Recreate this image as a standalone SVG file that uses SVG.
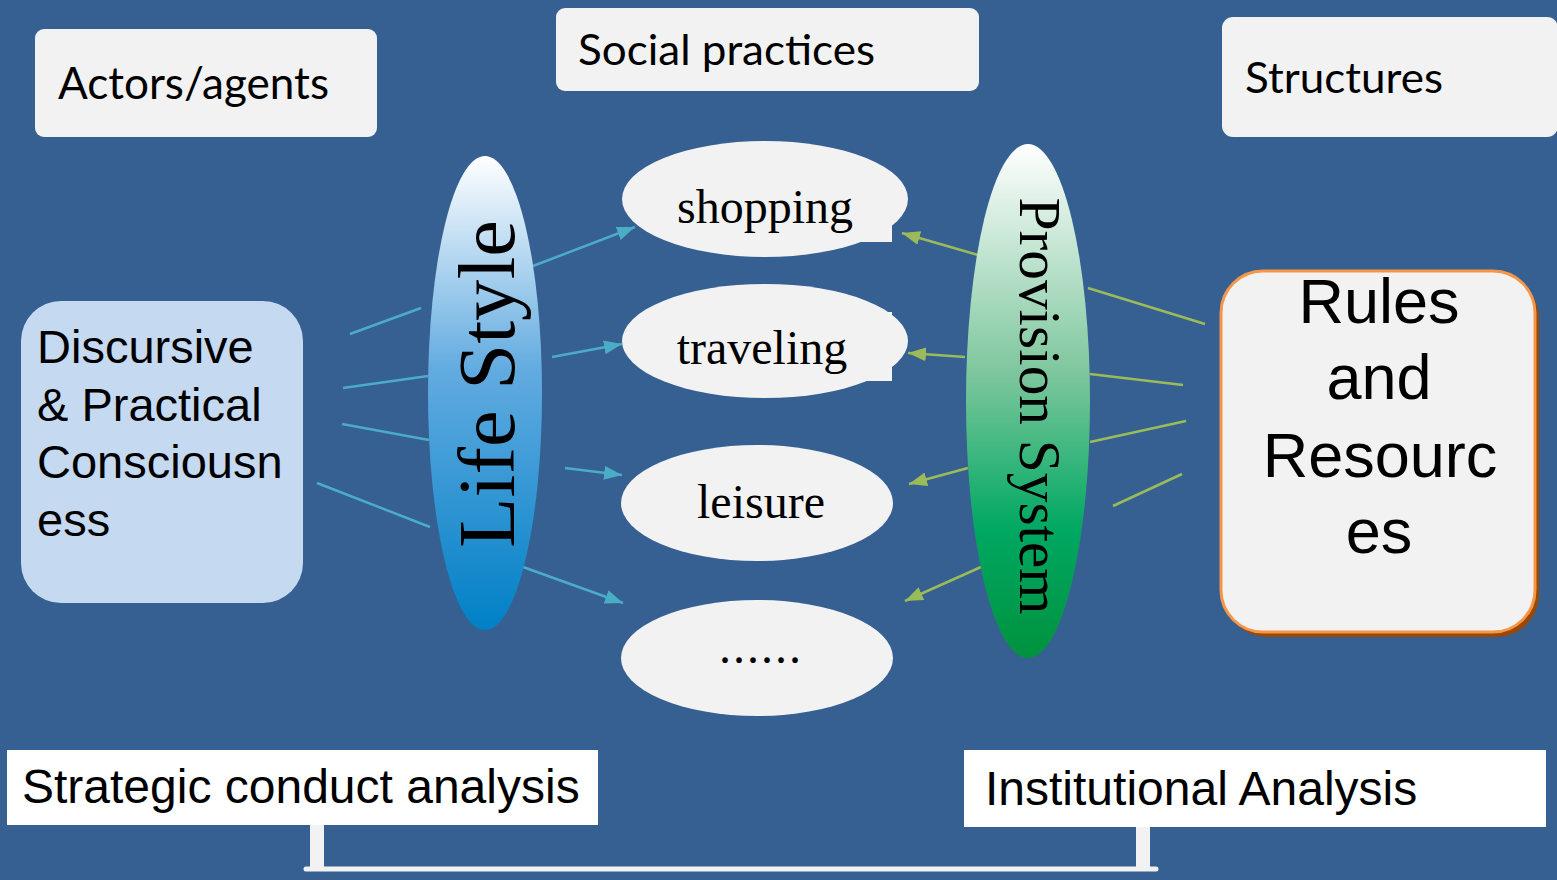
<svg xmlns="http://www.w3.org/2000/svg" width="1557" height="880" viewBox="0 0 1557 880">
<style>
.lbl{fill:#F2F2F2}
.calibri{font-family:Lato,"Open Sans",sans-serif;fill:#000}
.arial{font-family:"Liberation Sans",Arial,sans-serif;fill:#000}
.times{font-family:"Liberation Serif","Times New Roman",serif;fill:#000}
.bl{stroke:#4BACC6;stroke-width:2.5;fill:none}
.gr{stroke:#9BBB59;stroke-width:2.5;fill:none}
.oval{fill:#F2F2F2}
</style>
<defs>
<linearGradient id="gLife" x1="0" y1="0" x2="0" y2="1">
<stop offset="0" stop-color="#FFFFFF"/>
<stop offset="0.45" stop-color="#62ABE0"/>
<stop offset="1" stop-color="#0080C6"/>
</linearGradient>
<linearGradient id="gProv" x1="0" y1="0" x2="0" y2="1">
<stop offset="0" stop-color="#FFFFFF"/>
<stop offset="0.45" stop-color="#7CC69C"/>
<stop offset="0.75" stop-color="#00A862"/>
<stop offset="1" stop-color="#00923E"/>
</linearGradient>
<marker id="aB" markerUnits="userSpaceOnUse" markerWidth="18" markerHeight="14" refX="18" refY="7" orient="auto">
<path d="M0,0 L18,7 L0,14 z" fill="#4BACC6"/>
</marker>
<marker id="aG" markerUnits="userSpaceOnUse" markerWidth="18" markerHeight="14" refX="18" refY="7" orient="auto">
<path d="M0,0 L18,7 L0,14 z" fill="#9BBB59"/>
</marker>
</defs>
<rect x="0" y="0" width="1557" height="880" fill="#366092"/>

<g id="connectors">
<line class="bl" x1="350" y1="334" x2="421" y2="308"/>
<line class="bl" x1="343" y1="388" x2="428" y2="376"/>
<line class="bl" x1="342" y1="424" x2="429" y2="440"/>
<line class="bl" x1="317" y1="483" x2="430" y2="527"/>
<line class="bl" x1="533" y1="266" x2="635" y2="227" marker-end="url(#aB)"/>
<line class="bl" x1="552" y1="357" x2="622" y2="344" marker-end="url(#aB)"/>
<line class="bl" x1="565" y1="468" x2="622" y2="475" marker-end="url(#aB)"/>
<line class="bl" x1="523" y1="567" x2="623" y2="603" marker-end="url(#aB)"/>
<line class="gr" x1="978" y1="255" x2="902" y2="233" marker-end="url(#aG)"/>
<line class="gr" x1="965" y1="357" x2="908" y2="353" marker-end="url(#aG)"/>
<line class="gr" x1="968" y1="468" x2="909" y2="484" marker-end="url(#aG)"/>
<line class="gr" x1="981" y1="567" x2="905" y2="601" marker-end="url(#aG)"/>
<line class="gr" x1="1088" y1="288" x2="1205" y2="324"/>
<line class="gr" x1="1090" y1="374" x2="1183" y2="385"/>
<line class="gr" x1="1090" y1="442" x2="1186" y2="421"/>
<line class="gr" x1="1113" y1="506" x2="1182" y2="474"/>
<path d="M317,825 V869 M1143,827 V869" stroke="#F2F2F2" stroke-width="14" fill="none"/>
<path d="M306,869 H1156" stroke="#F2F2F2" stroke-width="5" stroke-linecap="round" fill="none"/>
</g>

<g id="actors">
<rect class="lbl" x="35" y="29" width="342" height="108" rx="9"/>
<text class="calibri" x="58" y="99" font-size="45" textLength="271" lengthAdjust="spacingAndGlyphs">Actors/agents</text>
</g>
<g id="social-practices">
<rect class="lbl" x="556" y="8" width="423" height="83" rx="9"/>
<text class="calibri" x="578" y="65" font-size="42" textLength="297" lengthAdjust="spacingAndGlyphs">Social practices</text>
</g>
<g id="structures">
<rect class="lbl" x="1222" y="17" width="336" height="120" rx="11"/>
<text class="calibri" x="1245" y="93" font-size="42" textLength="198" lengthAdjust="spacingAndGlyphs">Structures</text>
</g>

<g id="consciousness">
<rect x="21" y="301" width="282" height="302" rx="40" fill="#C5D9F1"/>
<text class="arial" font-size="47"><tspan x="37" y="363">Discursive</tspan><tspan x="37" y="421">&amp; Practical</tspan><tspan x="37" y="478">Consciousn</tspan><tspan x="37" y="536">ess</tspan></text>
</g>

<g id="life-style">
<ellipse cx="485" cy="393" rx="57" ry="237" fill="url(#gLife)"/>
<text class="times" font-size="80" text-anchor="middle" transform="translate(514,384) rotate(-90)" textLength="328" lengthAdjust="spacingAndGlyphs" fill="#1a1a1a">Life Style</text>
</g>

<g id="shopping">
<ellipse class="oval" cx="765" cy="199" rx="143" ry="58"/>
<rect class="oval" x="820" y="226" width="72" height="16"/>
<text class="times" x="765" y="223" font-size="48" text-anchor="middle">shopping</text>
</g>
<g id="traveling">
<ellipse class="oval" cx="765" cy="341" rx="143" ry="57"/>
<rect class="oval" x="830" y="312" width="62" height="69"/>
<text class="times" x="762" y="364" font-size="48" text-anchor="middle">traveling</text>
</g>
<g id="leisure">
<ellipse class="oval" cx="757" cy="503" rx="136" ry="58"/>
<text class="times" x="761" y="518" font-size="48" text-anchor="middle">leisure</text>
</g>
<g id="etc">
<ellipse class="oval" cx="757" cy="658" rx="136" ry="58"/>
<text class="times" x="761" y="663" font-size="48" text-anchor="middle" letter-spacing="2">......</text>
</g>

<g id="provision-system">
<ellipse cx="1028" cy="401" rx="62" ry="257" fill="url(#gProv)"/>
<text class="times" font-size="59" text-anchor="middle" transform="translate(1020,406) rotate(90)" textLength="417" lengthAdjust="spacingAndGlyphs" fill="#1a1a1a">Provision System</text>
</g>

<g id="rules-resources">
<rect x="1225" y="276" width="314" height="361" rx="42" fill="#984807"/>
<rect x="1221" y="271" width="314" height="361" rx="42" fill="#F2F2F2" stroke="#F79646" stroke-width="3"/>
<text class="arial" font-size="63" text-anchor="middle"><tspan x="1379" y="323">Rules</tspan><tspan x="1379" y="399">and</tspan><tspan x="1380" y="477">Resourc</tspan><tspan x="1379" y="553">es</tspan></text>
</g>

<g id="strategic-conduct">
<rect x="7" y="750" width="591" height="75" fill="#FFFFFF"/>
<text class="arial" x="22" y="803" font-size="48">Strategic conduct analysis</text>
</g>
<g id="institutional">
<rect x="964" y="750" width="582" height="77" fill="#FFFFFF"/>
<text class="arial" x="985" y="805" font-size="48">Institutional Analysis</text>
</g>
</svg>
